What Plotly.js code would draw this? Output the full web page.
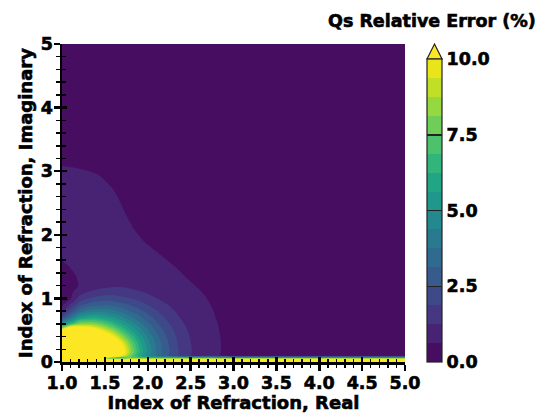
<!DOCTYPE html>
<html>
<head>
<meta charset="utf-8">
<script src="https://cdn.plot.ly/plotly-3.0.1.min.js"></script>
<style>html,body{margin:0;padding:0;background:#fff}#chart{width:550px;height:418px}
#chart svg text{stroke:#000;stroke-width:0.6px;paint-order:stroke}</style>
</head>
<body>
<div id="chart"></div>
<script>
// Index of refraction, real part (x) and imaginary part (y)
const realIndex = [1.0,1.1,1.2,1.3,1.4,1.5,1.6,1.7,1.8,1.9,2.0,2.1,2.2,2.35,2.5,2.65,2.8,2.95,3.2,3.6,4.2,5.0];
const imagIndex = [0,0.03,0.06,0.1,0.15,0.2,0.3,0.4,0.5,0.6,0.7,0.8,0.9,1.0,1.1,1.2,1.35,1.5,1.7,1.9,2.1,2.3,2.5,2.7,2.9,3.1,3.4,4.0,5.0];
// Qs relative error (%), one row per imaginary index
const relErr = [
 [20,20,20,20,20,20,20,20,20,20,20,20,20,20,20,20,20,20,20,20,20,20],
 [25,25,25,25,25,14,14,14,14,14,14,14,14,14,14,14,14,14,14,14,14,14],
 [25,25,25,25,25,8,6,6,7.5,7,7,7,7,7,7,7,7,7,7,7,7,7],
 [25,25,25,25,21.6,16.7,12.9,10.05,7.74,5.98,4.63,3.58,2.77,1.89,1.28,0.89,0.68,0.47,0.31,0.3,0.3,0.3],
 [25,25,25,25,24,18.5,14.1,10.8,8.26,6.33,4.84,3.71,2.85,1.91,1.28,0.91,0.70,0.49,0.31,0.3,0.3,0.3],
 [25,25,25,25,22.5,17.9,13.8,10.7,8.2,6.3,4.85,3.72,2.85,1.92,1.29,0.91,0.70,0.49,0.31,0.3,0.3,0.3],
 [25,25,25,20.3,17.2,14.6,12.2,9.8,7.7,6.0,4.63,3.6,2.75,1.85,1.26,0.9,0.7,0.49,0.31,0.3,0.3,0.3],
 [21,25,19.5,15.6,13.7,11.9,10.05,8.3,6.77,5.4,4.28,3.34,2.6,1.78,1.2,0.9,0.69,0.48,0.31,0.3,0.3,0.3],
 [10.1,14.2,12.5,11.6,10.6,9.4,8.2,6.9,5.75,4.7,3.77,3.0,2.36,1.64,1.13,0.88,0.67,0.46,0.31,0.3,0.3,0.3],
 [4.73,6.5,8.1,8.2,7.97,7.32,6.5,5.64,4.8,3.99,3.25,2.62,2.1,1.48,1.02,0.86,0.65,0.44,0.31,0.3,0.3,0.3],
 [2.19,3.7,5.3,5.8,5.86,5.55,5.07,4.49,3.88,3.32,2.77,2.27,1.83,1.31,0.92,0.82,0.61,0.4,0.31,0.3,0.3,0.3],
 [1.0,2.19,3.44,4.0,4.17,4.15,3.88,3.53,3.1,2.68,2.28,1.92,1.58,1.15,0.9,0.79,0.58,0.37,0.31,0.3,0.3,0.3],
 [0.5,1.36,2.24,2.73,2.95,3.07,2.92,2.7,2.44,2.14,1.85,1.58,1.33,1.0,0.9,0.74,0.53,0.32,0.3,0.3,0.3,0.3],
 [0.45,0.58,1.45,1.83,2.07,2.19,2.18,2.03,1.88,1.68,1.48,1.27,1.09,0.9,0.89,0.68,0.47,0.31,0.3,0.3,0.3,0.3],
 [0.43,0.5,0.94,1.24,1.43,1.54,1.6,1.53,1.43,1.32,1.17,1.03,0.9,0.9,0.81,0.6,0.39,0.31,0.3,0.3,0.3,0.3],
 [0.43,0.52,0.64,0.9,1.0,1.08,1.16,1.15,1.08,1.0,0.92,0.9,0.9,0.9,0.7,0.49,0.31,0.31,0.3,0.3,0.3,0.3],
 [0.45,0.56,0.66,0.8,0.9,0.9,0.9,0.9,0.9,0.9,0.9,0.9,0.9,0.74,0.53,0.32,0.31,0.3,0.3,0.3,0.3,0.3],
 [0.55,0.64,0.75,0.85,0.9,0.9,0.9,0.9,0.9,0.9,0.9,0.9,0.79,0.58,0.37,0.31,0.3,0.3,0.3,0.3,0.3,0.3],
 [0.72,0.78,0.85,0.9,0.9,0.9,0.9,0.9,0.9,0.9,0.81,0.67,0.53,0.32,0.31,0.3,0.3,0.3,0.3,0.3,0.3,0.3],
 [0.82,0.86,0.9,0.9,0.9,0.9,0.9,0.9,0.84,0.7,0.56,0.42,0.31,0.3,0.3,0.3,0.3,0.3,0.3,0.3,0.3,0.3],
 [0.85,0.88,0.9,0.9,0.9,0.9,0.9,0.81,0.67,0.53,0.39,0.31,0.3,0.3,0.3,0.3,0.3,0.3,0.3,0.3,0.3,0.3],
 [0.86,0.89,0.9,0.9,0.9,0.9,0.84,0.7,0.56,0.42,0.31,0.3,0.3,0.3,0.3,0.3,0.3,0.3,0.3,0.3,0.3,0.3],
 [0.87,0.89,0.9,0.9,0.9,0.88,0.75,0.6,0.47,0.33,0.3,0.3,0.3,0.3,0.3,0.3,0.3,0.3,0.3,0.3,0.3,0.3],
 [0.88,0.9,0.9,0.9,0.9,0.77,0.63,0.49,0.35,0.31,0.3,0.3,0.3,0.3,0.3,0.3,0.3,0.3,0.3,0.3,0.3,0.3],
 [0.87,0.86,0.82,0.77,0.71,0.58,0.44,0.31,0.3,0.3,0.3,0.3,0.3,0.3,0.3,0.3,0.3,0.3,0.3,0.3,0.3,0.3],
 [0.6,0.58,0.54,0.49,0.43,0.35,0.31,0.3,0.3,0.3,0.3,0.3,0.3,0.3,0.3,0.3,0.3,0.3,0.3,0.3,0.3,0.3],
 [0.3,0.3,0.3,0.3,0.3,0.3,0.3,0.3,0.3,0.3,0.3,0.3,0.3,0.3,0.3,0.3,0.3,0.3,0.3,0.3,0.3,0.3],
 [0.3,0.3,0.3,0.3,0.3,0.3,0.3,0.3,0.3,0.3,0.3,0.3,0.3,0.3,0.3,0.3,0.3,0.3,0.3,0.3,0.3,0.3],
 [0.3,0.3,0.3,0.3,0.3,0.3,0.3,0.3,0.3,0.3,0.3,0.3,0.3,0.3,0.3,0.3,0.3,0.3,0.3,0.3,0.3,0.3]
];
// contour levels 0 .. 10 step 0.625, values above 10 get the "over" colour
const levelStart = 0.625, levelEnd = 10, levelStep = 0.625;
// band colours (viridis sampled at band centres) + over colour
const bandColors = ['#470D60','#482374','#453781','#3E4989','#375B8D','#2F6B8E','#297A8E','#23898E',
                    '#1F978B','#21A685','#31B57B','#4CC26C','#6ECE58','#95D840','#C0DF25','#EAE51A','#FDE725'];
const xTickVals = [1.0,1.5,2.0,2.5,3.0,3.5,4.0,4.5,5.0];
const xTickText = ['1.0','1.5','2.0','2.5','3.0','3.5','4.0','4.5','5.0'];
const yTickVals = [0,1,2,3,4,5];
const yTickText = ['0','1','2','3','4','5'];
const cbTickVals = [0,2.5,5,7.5,10];
const cbTickText = ['0.0','2.5','5.0','7.5','10.0'];

const FONT = 'DejaVu Sans';
const nB = bandColors.length - 1; // 16 bands within 0..10
const contourScale = bandColors.map((c, i) => [i / nB, c]);
const barScale = [];
for (let i = 0; i < nB; i++) { barScale.push([i / nB, bandColors[i]]); barScale.push([(i + 1) / nB, bandColors[i]]); }

const traces = [
  {
    type: 'contour', x: realIndex, y: imagIndex, z: relErr,
    autocontour: false,
    contours: {start: levelStart, end: levelEnd, size: levelStep, coloring: 'fill', showlines: false},
    line: {width: 0, smoothing: 1},
    colorscale: contourScale, showscale: false, hoverinfo: 'skip'
  },
  {
    type: 'scatter', mode: 'markers', x: [3], y: [-5], hoverinfo: 'skip', showlegend: false,
    marker: {
      color: [5], cmin: 0, cmax: 10, colorscale: barScale, opacity: 0, showscale: true,
      colorbar: {
        thickness: 15, thicknessmode: 'pixels', len: 303, lenmode: 'pixels',
        x: 1.0641, xanchor: 'left', xpad: 0, y: 0, yanchor: 'bottom', ypad: 0,
        outlinewidth: 1.2, outlinecolor: '#222',
        tickmode: 'array', tickvals: cbTickVals, ticktext: cbTickText,
        ticks: 'inside', ticklen: 15, tickwidth: 1.5, tickcolor: '#222',
        tickfont: {family: FONT, size: 17.5, color: '#000', weight: 'bold'}
      }
    }
  },
  {type: 'scatter', mode: 'markers', x: [3], y: [-5], xaxis: 'x2', yaxis: 'y2', showlegend: false, hoverinfo: 'skip',
   marker: {opacity: 0, size: 1}}
];

const axisCommon = {showgrid: false, zeroline: false, showline: true, linecolor: '#000', linewidth: 2.5,
  ticks: 'outside', ticklen: 6, tickwidth: 2.5, tickcolor: '#000', mirror: false,
  tickfont: {family: FONT, size: 17.5, color: '#000', weight: 'bold'}, ticklabelstandoff: -3};

const layout = {
  width: 550, height: 418,
  margin: {l: 62, r: 145, t: 44, b: 56, pad: 0},
  paper_bgcolor: '#fff', plot_bgcolor: '#fff',
  font: {family: FONT, size: 17.5, color: '#000', weight: 'bold'},
  showlegend: false,
  xaxis: Object.assign({}, axisCommon, {
    range: [1, 5], tickmode: 'array', tickvals: xTickVals, ticktext: xTickText,
    minor: {dtick: 0.1, tick0: 1, ticks: 'outside', ticklen: 3.5, tickwidth: 1.5, tickcolor: '#000', showgrid: false},
    title: {text: 'Index of Refraction, Real', standoff: 4, font: {family: FONT, size: 18, color: '#000', weight: 'bold'}}
  }),
  yaxis: Object.assign({}, axisCommon, {
    range: [0, 5], tickmode: 'array', tickvals: yTickVals, ticktext: yTickText,
    minor: {dtick: 0.2, tick0: 0, ticks: 'outside', ticklen: 3.5, tickwidth: 1.5, tickcolor: '#000', showgrid: false},
    title: {text: 'Index of Refraction, Imaginary', standoff: 4, font: {family: FONT, size: 18, color: '#000', weight: 'bold'}}
  }),
  xaxis2: {overlaying: 'x', matches: 'x', anchor: 'y2', side: 'bottom', showgrid: false, zeroline: false, showline: false,
    tickmode: 'array', tickvals: xTickVals, ticks: 'inside', ticklen: 5, tickwidth: 2.5, tickcolor: '#000', showticklabels: false,
    minor: {dtick: 0.1, tick0: 1, ticks: 'inside', ticklen: 3.5, tickwidth: 1.5, tickcolor: '#000', showgrid: false}},
  yaxis2: {overlaying: 'y', matches: 'y', anchor: 'x2', side: 'left', showgrid: false, zeroline: false, showline: false,
    tickmode: 'array', tickvals: yTickVals, ticks: 'inside', ticklen: 5, tickwidth: 2.5, tickcolor: '#000', showticklabels: false,
    minor: {dtick: 0.2, tick0: 0, ticks: 'inside', ticklen: 3.5, tickwidth: 1.5, tickcolor: '#000', showgrid: false}},
  shapes: [{type: 'path', xref: 'paper', yref: 'paper',
    path: 'M 1.0641,0.9528 L 1.0860,1.0 L 1.1079,0.9528 Z',
    fillcolor: '#FDE725', line: {color: '#222', width: 1.2}, layer: 'above'}],
  annotations: [{text: 'Qs Relative Error (%)', xref: 'paper', yref: 'paper', x: 1.3878, y: 1.072,
    xanchor: 'right', yanchor: 'middle', showarrow: false,
    font: {family: FONT, size: 17.5, color: '#000', weight: 'bold'}}]
};

Plotly.newPlot('chart', traces, layout, {staticPlot: true, displayModeBar: false});
</script>
</body>
</html>
